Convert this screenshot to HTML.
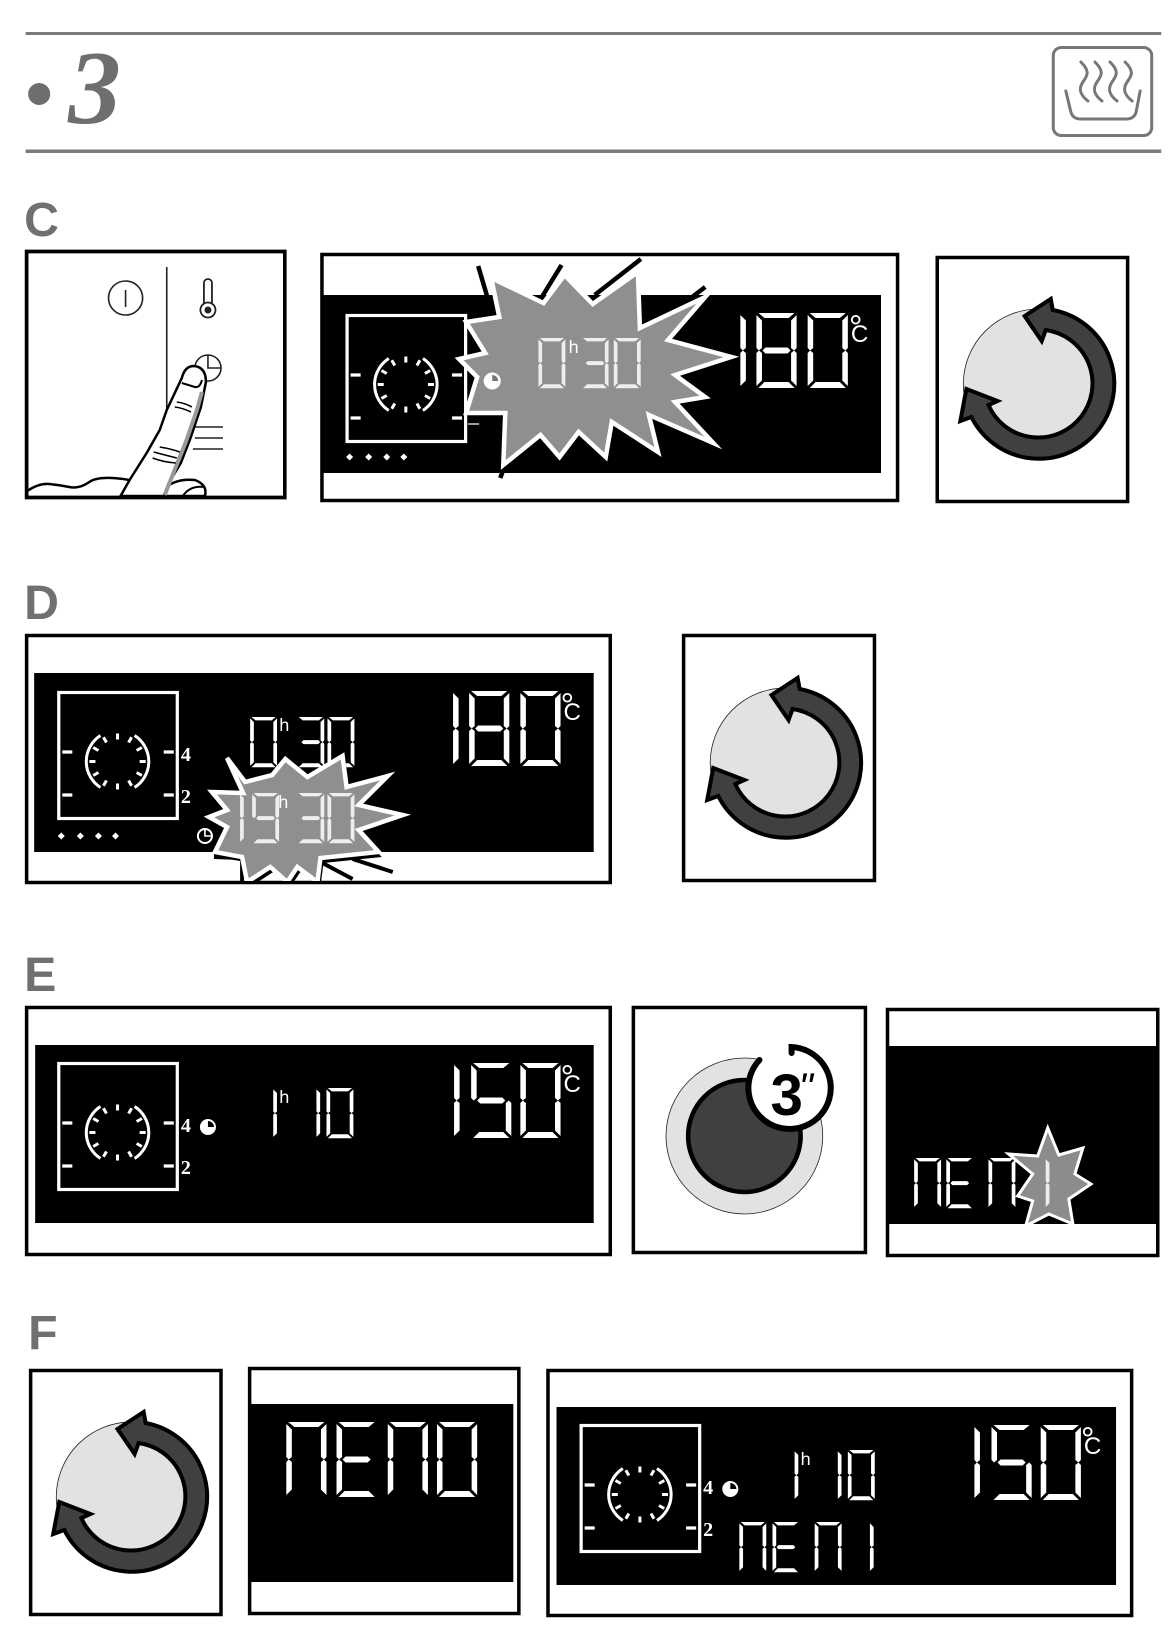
<!DOCTYPE html>
<html lang="en">
<head>
<meta charset="utf-8">
<title>Section 3 display steps C to F</title>
<style>
html,body{margin:0;padding:0;background:#fff}
svg{display:block}
.seg{fill:#fff}
.dim{fill:#eee}
.d0{d:path("M2 0H38L32 5H8ZM40 2V35L37.5 37.5L34.5 35V7.5ZM40 73V40L37.5 37.5L34.5 40V67.5ZM2 75L8 69H32L38 75ZM0 73V40L2.5 37.5L5.5 40V67.5ZM0 2V35L2.5 37.5L5.5 35V7.5Z")}
.d1{d:path("M0 73V40L2.5 37.5L5.5 40V67.5ZM0 2V35L2.5 37.5L5.5 35V7.5Z")}
.d3{d:path("M2 0H38L32 5H8ZM40 2V35L37.5 37.5L34.5 35V7.5ZM40 73V40L37.5 37.5L34.5 40V67.5ZM2 75L8 69H32L38 75ZM6 37.5L9 34.5H31L34 37.5L31 40.5H9Z")}
.d5{d:path("M2 0H38L32 5H8ZM0 2V35L2.5 37.5L5.5 35V7.5ZM40 73V40L37.5 37.5L34.5 40V67.5ZM2 75L8 69H32L38 75ZM6 37.5L9 34.5H31L34 37.5L31 40.5H9Z")}
.d8{d:path("M2 0H38L32 5H8ZM40 2V35L37.5 37.5L34.5 35V7.5ZM40 73V40L37.5 37.5L34.5 40V67.5ZM2 75L8 69H32L38 75ZM0 73V40L2.5 37.5L5.5 40V67.5ZM0 2V35L2.5 37.5L5.5 35V7.5ZM6 37.5L9 34.5H31L34 37.5L31 40.5H9Z")}
.d9{d:path("M2 0H38L32 5H8ZM40 2V35L37.5 37.5L34.5 35V7.5ZM40 73V40L37.5 37.5L34.5 40V67.5ZM2 75L8 69H32L38 75ZM0 2V35L2.5 37.5L5.5 35V7.5ZM6 37.5L9 34.5H31L34 37.5L31 40.5H9Z")}
.dn{d:path("M2 0H38L32 5H8ZM40 2V35L37.5 37.5L34.5 35V7.5ZM40 73V40L37.5 37.5L34.5 40V67.5ZM0 73V40L2.5 37.5L5.5 40V67.5ZM0 2V35L2.5 37.5L5.5 35V7.5Z")}
.de{d:path("M2 0H38L32 5H8ZM2 75L8 69H32L38 75ZM0 73V40L2.5 37.5L5.5 40V67.5ZM0 2V35L2.5 37.5L5.5 35V7.5ZM6 37.5L9 34.5H31L34 37.5L31 40.5H9Z")}
.box{fill:#fff;stroke:#000;stroke-width:3.5}
.let{font:bold 48px "Liberation Sans",sans-serif;fill:#707070}
.h{font:18px "Liberation Sans",sans-serif;fill:#fff}
.n{font:bold 20px "Liberation Serif",serif;fill:#fff}
.cc{font:24px "Liberation Sans",sans-serif;fill:#fff}
.dg{font:34px "Liberation Sans",sans-serif;fill:#fff}
.burst{fill:#8f8f8f;stroke:#fff;stroke-width:4.5;stroke-linejoin:miter;stroke-miterlimit:6}
</style>
</head>
<body>
<svg xmlns="http://www.w3.org/2000/svg" width="1170" height="1644" viewBox="1 0 1164.7 1644" preserveAspectRatio="none">
<defs>
<g id="oven" fill="none" stroke="#fff">
<rect x="24.5" y="19.5" width="118" height="126" stroke-width="3.2"/>
<path stroke-width="3" d="M66 62.5A31 31 0 0 0 66 114.5M100 62.5A31 31 0 0 1 100 114.5"/>
<path stroke-width="3" d="M83 60.5V66.5M83 110.5V116.5M55 88.5H61M105 88.5H111M69 64.25L72 69.5M97 64.25L94 69.5M69 112.75L72 107.5M97 112.75L94 107.5M58.75 74.5L64 77.5M107.25 74.5L102 77.5M58.75 102.5L64 99.5M107.25 102.5L102 99.5"/>
<path stroke-width="3.2" d="M28 79H38M28 122H38M129 79H139M129 122H139"/>
</g>
<g id="arrow">
<circle r="75" fill="#e2e2e2" stroke="#222" stroke-width="0.8"/>
<path fill="#404040" stroke="#000" stroke-width="4" stroke-linejoin="miter" d="M14 -74L12 -85L-14 -68L3 -43L7 -54A54 54 0 1 1 -50 21L-41 17L-72 5L-78 37L-67 33A75 75 0 1 0 14 -74Z"/>
</g>
<clipPath id="cd"><rect x="29" y="637" width="578" height="244"/></clipPath>
</defs>

<!-- header -->
<rect x="26.5" y="32" width="1130.5" height="3" fill="#7a7a7a"/>
<rect x="26.5" y="149.5" width="1130.5" height="3.5" fill="#7a7a7a"/>
<circle cx="40" cy="94" r="11" fill="#6e6e6e"/>
<text x="69" y="123" font-family="'Liberation Serif',serif" font-weight="bold" font-style="italic" font-size="105" fill="#6e6e6e">3</text>
<g fill="none" stroke="#777" stroke-width="3" stroke-linecap="round">
<rect x="1049.5" y="47.5" width="98" height="88" rx="8"/>
<path d="M1062 91L1067 112Q1069 119 1077 119H1122Q1130 119 1132 112L1136 91"/>
<path d="M1077 62C1087 72 1083 76 1079 82C1075 88 1075 94 1084 101M1091 62C1101 72 1097 76 1093 82C1089 88 1089 94 1098 101M1106 62C1116 72 1112 76 1108 82C1104 88 1104 94 1113 101M1121 62C1131 72 1127 76 1123 82C1119 88 1119 94 1128 101"/>
</g>

<!-- section letters -->
<text class="let" x="25" y="236">C</text>
<text class="let" x="25" y="619">D</text>
<text class="let" x="25" y="991">E</text>
<text class="let" x="29" y="1349">F</text>

<!-- C1 hand panel -->
<rect class="box" x="27.5" y="251.5" width="257" height="246"/>
<g fill="none" stroke="#222">
<path stroke-width="1.6" d="M167 267V410"/>
<circle cx="126" cy="298" r="17" stroke-width="1.6"/>
<path stroke-width="1.6" d="M126 290V307"/>
<path stroke-width="1.8" d="M204 310V283A4 4 0 0 1 212 283V310"/>
<circle cx="208" cy="310" r="7.5" stroke-width="1.8" fill="#fff"/>
<circle cx="208" cy="310" r="3.5" fill="#222" stroke="none"/>
<circle cx="208" cy="368" r="13" stroke-width="1.6"/>
<path stroke-width="1.6" d="M208 355V368H221"/>
<path stroke-width="1.6" d="M195 427H223M195 438H223M193 449H223"/>
</g>
<g stroke="#000" stroke-width="2.5" stroke-linejoin="round">
<path fill="#fff" d="M163 490Q175 478 195 480Q208 485 205 496H163Z"/>
<path fill="none" stroke-width="2" d="M183 496Q190 485 205 487"/>
<path fill="#fff" d="M121 496L130 480L147 453L160 430L167 410L182 378Q185 366 194 366Q206 367 206 382L201 407L191 437L181 463L169 483L164 496Z"/>
<path fill="none" stroke="#999" stroke-width="4" d="M202 392L197 410L186 442L174 472L165 495"/>
<path fill="none" stroke-width="2" d="M182 383L195 387Q200 388 202 380"/>
<path fill="none" stroke-width="1.6" d="M177 402Q185 403 192 407M175 407Q183 408 191 412M160 447Q172 449 180 452M154 452Q165 455 177 458M153 458Q163 462 176 463"/>
<path fill="none" d="M28 491Q40 483 50 484T70 487T90 482T130 480"/>
</g>
<rect x="27.5" y="251.5" width="257" height="246" fill="none" stroke="#000" stroke-width="3.5"/>

<!-- C2 display -->
<rect class="box" x="321.5" y="254.5" width="573" height="246"/>
<rect x="321" y="295" width="557" height="178" fill="#000"/>
<use href="#oven" x="322" y="296"/>
<path fill="#fff" d="M349 453.5l3.5 3.5l-3.5 3.5l-3.5 -3.5ZM368 453.5l3.5 3.5l-3.5 3.5l-3.5 -3.5ZM386 453.5l3.5 3.5l-3.5 3.5l-3.5 -3.5ZM403 453.5l3.5 3.5l-3.5 3.5l-3.5 -3.5Z"/>
<path stroke="#fff" stroke-width="1.2" d="M467 424H478"/>
<g><title>180</title>
<path class="seg d1" transform="translate(738 313)"/><path class="seg d8" transform="translate(754 313)"/><path class="seg d0" transform="translate(805 313)"/></g>
<text class="dg" x="846" y="339">°</text><text class="cc" x="848" y="342">C</text>
<g stroke="#000" stroke-width="4.5" fill="none">
<path d="M477 266L487 300M560 265L541 296M639 259L593 295M703 287L690 297M502 470L499 478"/>
</g>
<polygon class="burst" points="490,278 542,303 563,275 591,304 636,272 638,328 703,297 666,340 729,357 673,375 703,397 673,402 711,443 647,415 656,452 610,422 604,457 577,432 558,457 539,435 502,465 504,413 465,413 476,377 458,359 484,353 465,322 498,317"/>
<circle cx="491" cy="381" r="7.5" fill="#fff" stroke="#fff" stroke-width="2"/>
<path d="M491 381V375A6 6 0 0 1 497 381Z" fill="#777"/>
<g><title>0h30</title>
<path class="dim d0" transform="translate(537 338) scale(.67)"/><path class="dim d3" transform="translate(580 338) scale(.67)"/><path class="dim d0" transform="translate(612 338) scale(.67)"/></g>
<text class="h" x="567" y="353">h</text>

<!-- C3 -->
<rect class="box" x="934" y="257.5" width="189.5" height="244"/>
<use href="#arrow" x="1035" y="384"/>

<!-- D1 display -->
<rect class="box" x="27.5" y="635.5" width="581" height="247"/>
<rect x="35" y="673" width="557" height="179" fill="#000"/>
<use href="#oven" x="35" y="673"/>
<text class="n" x="181" y="761">4</text><text class="n" x="181" y="803">2</text>
<path fill="#fff" d="M62 832.5l3.5 3.5l-3.5 3.5l-3.5 -3.5ZM81 832.5l3.5 3.5l-3.5 3.5l-3.5 -3.5ZM99 832.5l3.5 3.5l-3.5 3.5l-3.5 -3.5ZM116 832.5l3.5 3.5l-3.5 3.5l-3.5 -3.5Z"/>
<circle cx="205" cy="836" r="7" fill="none" stroke="#fff" stroke-width="2"/>
<path d="M205 830V836H211" fill="none" stroke="#fff" stroke-width="1.6"/>
<g><title>0h30</title>
<path class="seg d0" transform="translate(250 717) scale(.67)"/><path class="seg d3" transform="translate(297 717) scale(.67)"/><path class="seg d0" transform="translate(327 717) scale(.67)"/></g>
<text class="h" x="279" y="731">h</text>
<g><title>180</title>
<path class="seg d1" transform="translate(452 691)"/><path class="seg d8" transform="translate(468 691)"/><path class="seg d0" transform="translate(519 691)"/></g>
<text class="dg" x="559" y="717">°</text><text class="cc" x="562" y="720">C</text>
<g clip-path="url(#cd)">
<polygon fill="#000" transform="translate(3 5)" points="227,758 245,782 272,775 285,759 307,777 342,756 346,787 387,776 358,805 402,815 358,830 378,852 320,858 317,882 297,867 287,882 270,867 247,882 242,857 215,852 227,827 209,817 227,810 212,792 243,793"/>
<polygon fill="#000" points="214,851 244,853 244,881 240,881 240,860 214,859"/>
<path d="M352 859L392 872M322 863L352 879" stroke="#000" stroke-width="4" fill="none"/>
<polygon class="burst" points="227,758 245,782 272,775 285,759 307,777 342,756 346,787 387,776 358,805 402,815 358,830 378,852 320,858 317,882 297,867 287,882 270,867 247,882 242,857 215,852 227,827 209,817 227,810 212,792 243,793"/>
</g>
<g><title>19h30</title>
<path class="dim d1" transform="translate(240 793) scale(.67)"/><path class="dim d9" transform="translate(252 793) scale(.67)"/><path class="dim d3" transform="translate(297 793) scale(.67)"/><path class="dim d0" transform="translate(327 793) scale(.67)"/></g>
<text class="h" x="278" y="808">h</text>

<!-- D2 -->
<rect class="box" x="681.5" y="635.5" width="190" height="245"/>
<use href="#arrow" x="783" y="763"/>

<!-- E1 -->
<rect class="box" x="27.5" y="1007.5" width="581" height="247"/>
<rect x="36" y="1045" width="556" height="178" fill="#000"/>
<use href="#oven" x="35" y="1044"/>
<text class="n" x="181" y="1132">4</text><text class="n" x="181" y="1174">2</text>
<circle cx="208" cy="1127" r="7" fill="none" stroke="#fff" stroke-width="2"/>
<path d="M208 1127V1120A7 7 0 1 1 201 1127Z" fill="#fff" transform="rotate(90 208 1127)"/>
<g><title>1h10</title>
<path class="seg d1" transform="translate(273 1088) scale(.67)"/><path class="seg d1" transform="translate(316 1088) scale(.67)"/><path class="seg d0" transform="translate(326 1088) scale(.67)"/></g>
<text class="h" x="279" y="1103">h</text>
<g><title>150</title>
<path class="seg d1" transform="translate(453 1063)"/><path class="seg d5" transform="translate(470 1063)"/><path class="seg d0" transform="translate(519 1063)"/></g>
<text class="dg" x="559" y="1089">°</text><text class="cc" x="562" y="1092">C</text>

<!-- E2 -->
<rect class="box" x="631.5" y="1007.5" width="231" height="245"/>
<circle cx="742" cy="1136" r="78" fill="#e2e2e2" stroke="#222" stroke-width="0.8"/>
<circle cx="742" cy="1136" r="56" fill="#404040" stroke="#000" stroke-width="4.5"/>
<circle cx="789" cy="1088" r="41" fill="#fff"/>
<path d="M789 1053V1047A41 41 0 1 1 757 1060" fill="none" stroke="#000" stroke-width="6" stroke-linecap="round"/>
<text x="768" y="1115" font-family="'Liberation Sans',sans-serif" font-weight="bold" font-size="58" fill="#000">3</text>
<text x="796" y="1101" font-family="'Liberation Sans',sans-serif" font-style="italic" font-size="40" fill="#000">"</text>

<!-- E3 -->
<rect class="box" x="884.5" y="1009.5" width="269" height="246"/>
<rect x="884" y="1046" width="271" height="178" fill="#000"/>
<g><title>MEM1</title>
<path class="seg dn" transform="translate(911 1158) scale(.67)"/><path class="seg de" transform="translate(943 1158) scale(.67)"/><path class="seg dn" transform="translate(985 1158) scale(.67)"/>
<polygon fill="#8c8c8c" stroke="#fff" stroke-width="3" transform="translate(2 1)" points="1042,1127 1053,1154 1077,1147 1069,1173 1085,1183 1063,1198 1067,1223 1043,1213 1020,1225 1027,1200 1012,1195 1027,1173 1003,1153 1032,1155"/>
<path class="dim d1" transform="translate(1042 1158) scale(.67)"/></g>

<!-- F1 -->
<rect class="box" x="31.5" y="1370.5" width="189.5" height="244"/>
<use href="#arrow" x="132" y="1497"/>

<!-- F2 -->
<rect class="box" x="249.5" y="1368.5" width="268" height="245"/>
<rect x="249" y="1404" width="263" height="178" fill="#000"/>
<g><title>MENO</title>
<path class="seg dn" transform="translate(286 1422)"/><path class="seg de" transform="translate(336 1422)"/><path class="seg dn" transform="translate(387 1422)"/><path class="seg d0" transform="translate(436 1422)"/></g>

<!-- F3 -->
<rect class="box" x="546.5" y="1370.5" width="581" height="245"/>
<rect x="555" y="1407" width="557" height="178" fill="#000"/>
<use href="#oven" x="555" y="1406"/>
<text class="n" x="701" y="1494">4</text><text class="n" x="701" y="1536">2</text>
<circle cx="728" cy="1489" r="7" fill="none" stroke="#fff" stroke-width="2"/>
<path d="M728 1489V1482A7 7 0 1 1 721 1489Z" fill="#fff" transform="rotate(90 728 1489)"/>
<g><title>1h10</title>
<path class="seg d1" transform="translate(792 1450) scale(.67)"/><path class="seg d1" transform="translate(835 1450) scale(.67)"/><path class="seg d0" transform="translate(845 1450) scale(.67)"/></g>
<text class="h" x="798" y="1465">h</text>
<g><title>150</title>
<path class="seg d1" transform="translate(971 1425)"/><path class="seg d5" transform="translate(988 1425)"/><path class="seg d0" transform="translate(1037 1425)"/></g>
<text class="dg" x="1077" y="1451">°</text><text class="cc" x="1080" y="1454">C</text>
<g><title>MEM1</title>
<path class="seg dn" transform="translate(737 1522) scale(.67)"/><path class="seg de" transform="translate(770 1522) scale(.67)"/><path class="seg dn" transform="translate(812 1522) scale(.67)"/><path class="seg d1" transform="translate(867 1522) scale(.67)"/></g>
</svg>
</body>
</html>
